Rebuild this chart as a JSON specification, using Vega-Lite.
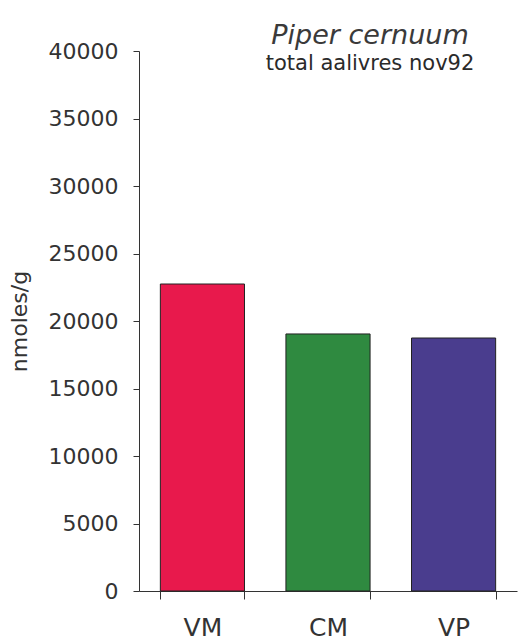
{
  "$schema": "https://vega.github.io/schema/vega-lite/v6.json",
  "width": 378,
  "height": 540,
  "autosize": "none",
  "padding": {"left": 139, "top": 51, "right": 1, "bottom": 49},
  "background": "white",
  "data": {"values": [
    {"site": "VM", "value": 22740},
    {"site": "CM", "value": 19040},
    {"site": "VP", "value": 18740}
  ]},
  "title": {
    "text": "Piper cernuum",
    "subtitle": "total aalivres nov92",
    "font": "DejaVu Sans",
    "fontStyle": "italic",
    "fontWeight": "normal",
    "fontSize": 27,
    "color": "#3a3a3a",
    "subtitleFont": "DejaVu Sans",
    "subtitleFontSize": 21,
    "subtitleColor": "#2a2a2a",
    "subtitlePadding": 3,
    "anchor": "middle",
    "dx": 42,
    "offset": -35
  },
  "mark": {"type": "bar", "stroke": "#222222", "strokeWidth": 1},
  "encoding": {
    "x": {
      "field": "site",
      "type": "nominal",
      "sort": ["VM", "CM", "VP"],
      "scale": {"paddingInner": 0.33, "paddingOuter": 0.17},
      "axis": {
        "title": null,
        "labelAngle": 0,
        "labelFont": "DejaVu Sans",
        "labelFontSize": 25,
        "labelColor": "#333333",
        "labelPadding": 16,
        "tickBand": "extent",
        "tickSize": 8,
        "tickColor": "#333333",
        "domainColor": "#333333"
      }
    },
    "y": {
      "field": "value",
      "type": "quantitative",
      "scale": {"domain": [0, 40000]},
      "axis": {
        "title": "nmoles/g",
        "titleFont": "DejaVu Sans",
        "titleFontSize": 22,
        "titleFontWeight": "normal",
        "titleColor": "#333333",
        "titleX": -108,
        "titleY": 270,
        "values": [0, 5000, 10000, 15000, 20000, 25000, 30000, 35000, 40000],
        "format": "d",
        "labelFont": "DejaVu Sans",
        "labelFontSize": 22,
        "labelColor": "#333333",
        "labelPadding": 15,
        "tickSize": 6,
        "tickColor": "#333333",
        "domainColor": "#333333",
        "grid": false
      }
    },
    "color": {
      "field": "site",
      "type": "nominal",
      "scale": {"domain": ["VM", "CM", "VP"], "range": ["#e8194c", "#2f8a40", "#4a3d8e"]},
      "legend": null
    }
  },
  "config": {"view": {"stroke": null}}
}
